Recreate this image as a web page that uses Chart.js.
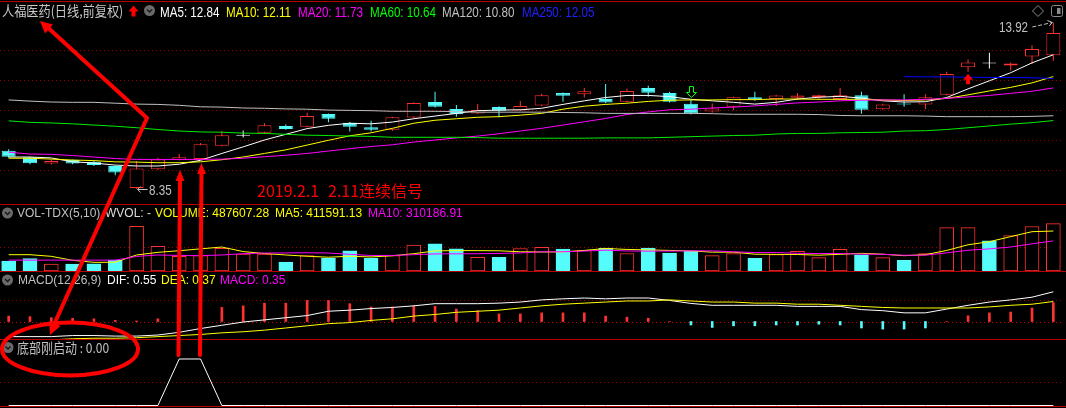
<!DOCTYPE html>
<html>
<head>
<meta charset="utf-8">
<title>人福医药 日线</title>
<script src="https://cdn.jsdelivr.net/npm/chart.js@4.4.1/dist/chart.umd.min.js"></script>
<style>
  html, body { margin: 0; padding: 0; background: #000; }
  #wrap { position: relative; width: 1066px; height: 408px; overflow: hidden; background: #000; }
  #wrap canvas { position: absolute; left: -2px; }
  .hl { position: absolute; left: 0; width: 1066px; height: 1px; background: #b80000; }
  .t { position: absolute; white-space: pre; font-family: "Liberation Sans", Arial, sans-serif; font-size: 12px; line-height: 14px; }
  .big { font-size: 14px; line-height: 16px; transform: scaleX(0.83); transform-origin: 0 0; }
  .cjk { font-family: "Noto Sans CJK SC", sans-serif; }
  svg { position: absolute; overflow: visible; }
</style>
</head>
<body>
<div id="wrap">
  <canvas id="cMain" width="1066" height="204" style="top:0"></canvas>
  <canvas id="cVol" width="1066" height="67" style="top:204px"></canvas>
  <canvas id="cMacd" width="1066" height="68" style="top:271px"></canvas>
  <canvas id="cSig" width="1066" height="69" style="top:339px"></canvas>

  <div class="hl" style="top:1px"></div>
  <div class="hl" style="top:204px"></div>
  <div class="hl" style="top:271px"></div>
  <div class="hl" style="top:339px"></div>
  <div class="hl" style="top:406px"></div>

  <!-- title row -->
  <div class="t cjk" style="left:2px;top:2px;font-size:14px;line-height:16px;color:#c8c8c8;transform:scaleX(0.87);transform-origin:0 0">人福医药(日线,前复权)</div>
  <svg style="left:0;top:0" width="1066" height="20">
    <polygon points="133.5,5.5 138.5,11.5 135.5,11.5 135.5,16.5 131.5,16.5 131.5,11.5 128.5,11.5" fill="#ff0000"/>
    <circle cx="149.5" cy="10.5" r="5.5" fill="#6a6a6a"/>
    <polyline points="147,9.5 149.5,12 152,9.5" stroke="#1a1a1a" stroke-width="1.5" fill="none"/>
    <polygon points="1038,5.5 1043.5,11 1038,16.5 1032.5,11" stroke="#8a8a8a" fill="none"/>
    <rect x="1051.5" y="5.5" width="11" height="11" rx="2" stroke="#8a8a8a" fill="none"/>
    <rect x="1057" y="8" width="3.5" height="6" fill="#8a8a8a"/>
  </svg>
  <div class="t big" style="left:160px;top:4px;color:#ffffff">MA5: 12.84</div>
  <div class="t big" style="left:226px;top:4px;color:#ffff00">MA10: 12.11</div>
  <div class="t big" style="left:298px;top:4px;color:#ff00ff">MA20: 11.73</div>
  <div class="t big" style="left:370px;top:4px;color:#00ff00">MA60: 10.64</div>
  <div class="t big" style="left:442px;top:4px;color:#c0c0c0">MA120: 10.80</div>
  <div class="t big" style="left:522px;top:4px;color:#2020ff">MA250: 12.05</div>
  <div id="lblLow" class="t big" style="color:#c0c0c0"></div>
  <div id="lblHigh" class="t big" style="color:#c0c0c0"></div>

  <!-- volume row -->
  <svg style="left:0;top:0" width="20" height="408">
    <circle cx="7.5" cy="213" r="5.5" fill="#6a6a6a"/>
    <polyline points="5,212 7.5,214.5 10,212" stroke="#1a1a1a" stroke-width="1.5" fill="none"/>
    <circle cx="7.5" cy="280" r="5.5" fill="#6a6a6a"/>
    <polyline points="5,279 7.5,281.5 10,279" stroke="#1a1a1a" stroke-width="1.5" fill="none"/>
    <circle cx="8" cy="347.5" r="5.5" fill="#6a6a6a"/>
    <polyline points="5.5,346.5 8,349 10.5,346.5" stroke="#1a1a1a" stroke-width="1.5" fill="none"/>
  </svg>
  <div class="t" style="left:17px;top:206px;color:#c0c0c0">VOL-TDX(5,10)</div>
  <div class="t" style="left:105px;top:206px;color:#dcdcdc">WVOL: -</div>
  <div class="t" style="left:155px;top:206px;color:#ffff00">VOLUME: 487607.28</div>
  <div class="t" style="left:275px;top:206px;color:#ffff00">MA5: 411591.13</div>
  <div class="t" style="left:368px;top:206px;color:#ff00ff">MA10: 310186.91</div>

  <!-- macd row -->
  <div class="t" style="left:18px;top:273px;color:#c0c0c0">MACD(12,26,9)</div>
  <div class="t" style="left:107px;top:273px;color:#ffffff">DIF: 0.55</div>
  <div class="t" style="left:161px;top:273px;color:#ffff00">DEA: 0.37</div>
  <div class="t" style="left:220px;top:273px;color:#ff00ff">MACD: 0.35</div>

  <!-- signal row -->
  <div class="t cjk" style="left:17px;top:339px;font-size:13.5px;line-height:16px;color:#c0c0c0;transform:scaleX(0.89);transform-origin:0 0">底部刚启动 : 0.00</div>

  <!-- hand drawn notes -->
  <div class="t cjk" style="left:257px;top:181px;font-size:16px;line-height:18px;color:#ff0000">2019.2.1</div>
  <div class="t cjk" style="left:328px;top:181px;font-size:16px;line-height:18px;color:#ff0000">2.11连续信号</div>
  <svg style="left:0;top:0" width="1066" height="408">
    <g stroke="#ff0000" stroke-width="4" fill="none" stroke-linecap="round" stroke-linejoin="round">
      <polyline points="45,25 147,118 52,329"/>
      <ellipse cx="70" cy="349" rx="68" ry="26.5"/>
      <line x1="178.5" y1="355" x2="180" y2="178"/>
      <line x1="200" y1="355" x2="201.5" y2="171"/>
    </g>
    <g fill="#ff0000">
      <polygon points="40,21 53,24.5 45,33.5"/>
      <polygon points="50,335 60.5,326 49,321"/>
      <polygon points="180,170 184.5,181 175.5,181"/>
      <polygon points="201.5,163 206,174 197,174"/>
    </g>
  </svg>
</div>

<script>
// trading days of the window
const days = ['1','2','3','4','5','6','7','8','9','10','11','12','13','14','15','16','17','18','19','20',
  '21','22','23','24','25','26','27','28','29','30','31','32','33','34','35','36','37','38','39','40',
  '41','42','43','44','45','46','47','48','49','50'];

const open  = [9.63, 9.41, 9.20, 9.32, 9.26, 9.12, 8.38, 9.01, 9.32, 9.35, 9.80, 10.13, 10.23, 10.46, 10.43, 10.86, 10.57, 10.42, 10.33, 10.74,
  11.26, 11.03, 10.88, 11.09, 10.98, 11.14, 11.56, 11.52, 11.36, 11.27, 11.73, 11.56, 11.20, 10.94, 11.10, 11.42, 11.36, 11.40, 11.43, 11.36,
  11.49, 11.02, 11.20, 11.18, 11.50, 12.42, 12.56, 12.48, 12.78, 12.82];
const high  = [9.68, 9.43, 9.33, 9.34, 9.28, 9.14, 9.29, 9.40, 9.52, 9.89, 10.29, 10.31, 10.55, 10.51, 10.90, 10.88, 10.59, 10.63, 10.77, 11.25,
  11.60, 11.16, 11.19, 11.12, 11.29, 11.54, 11.58, 11.73, 11.86, 11.70, 11.80, 11.60, 11.33, 11.21, 11.44, 11.60, 11.50, 11.56, 11.51, 11.73,
  11.60, 11.20, 11.52, 11.52, 12.27, 12.68, 12.91, 12.58, 13.16, 13.92];
const low   = [9.40, 9.18, 9.17, 9.18, 9.12, 8.81, 8.35, 8.99, 9.30, 9.33, 9.78, 10.07, 10.19, 10.33, 10.42, 10.58, 10.27, 10.27, 10.29, 10.72,
  11.08, 10.77, 10.86, 10.75, 10.96, 11.12, 11.27, 11.41, 11.22, 11.25, 11.44, 11.24, 10.84, 10.90, 10.99, 11.30, 11.13, 11.33, 11.33, 11.34,
  10.87, 11.00, 11.10, 11.02, 11.48, 12.27, 12.38, 12.31, 12.53, 12.64];
const close = [9.43, 9.21, 9.29, 9.20, 9.15, 8.90, 9.04, 9.34, 9.41, 9.85, 10.15, 10.13, 10.48, 10.36, 10.79, 10.70, 10.43, 10.33, 10.75, 11.23,
  11.10, 10.85, 10.99, 10.97, 11.13, 11.49, 11.47, 11.62, 11.24, 11.63, 11.57, 11.27, 10.88, 11.04, 11.42, 11.34, 11.48, 11.48, 11.49, 11.49,
  11.00, 11.18, 11.18, 11.42, 12.20, 12.58, 12.55, 12.55, 13.03, 13.57];

const ma5   = [9.42, 9.42, 9.39, 9.26, 9.22, 9.15, 9.12, 9.12, 9.18, 9.31, 9.54, 9.76, 9.99, 10.18, 10.37, 10.48, 10.55, 10.53, 10.59, 10.70,
  10.79, 10.88, 10.97, 10.99, 11.00, 11.05, 11.18, 11.30, 11.41, 11.48, 11.48, 11.44, 11.35, 11.30, 11.25, 11.19, 11.25, 11.36, 11.42, 11.45,
  11.39, 11.30, 11.26, 11.27, 11.41, 11.70, 11.97, 12.24, 12.57, 12.84];
const ma10  = [9.38, 9.38, 9.35, 9.32, 9.30, 9.26, 9.25, 9.23, 9.23, 9.26, 9.33, 9.42, 9.54, 9.66, 9.82, 9.98, 10.13, 10.23, 10.38, 10.55,
  10.65, 10.70, 10.75, 10.77, 10.82, 10.88, 11.02, 11.12, 11.18, 11.22, 11.28, 11.32, 11.33, 11.33, 11.34, 11.34, 11.36, 11.36, 11.35, 11.35,
  11.35, 11.33, 11.31, 11.33, 11.38, 11.50, 11.63, 11.75, 11.90, 12.11];
const ma20  = [9.58, 9.52, 9.51, 9.47, 9.42, 9.37, 9.34, 9.34, 9.34, 9.34, 9.35, 9.38, 9.43, 9.48, 9.54, 9.62, 9.70, 9.77, 9.83, 9.92,
  9.99, 10.06, 10.12, 10.20, 10.29, 10.38, 10.49, 10.60, 10.71, 10.84, 10.93, 11.00, 11.02, 11.06, 11.09, 11.13, 11.18, 11.23, 11.26, 11.30,
  11.32, 11.33, 11.33, 11.35, 11.38, 11.43, 11.48, 11.55, 11.62, 11.73];
const ma60  = [10.63, 10.58, 10.56, 10.53, 10.49, 10.45, 10.40, 10.34, 10.29, 10.26, 10.25, 10.22, 10.21, 10.18, 10.15, 10.14, 10.12, 10.11, 10.08, 10.08,
  10.08, 10.08, 10.07, 10.05, 10.05, 10.05, 10.05, 10.05, 10.06, 10.06, 10.06, 10.08, 10.10, 10.12, 10.14, 10.15, 10.19, 10.21, 10.21, 10.23,
  10.24, 10.25, 10.29, 10.30, 10.34, 10.40, 10.46, 10.52, 10.57, 10.64];
const ma120 = [11.33, 11.29, 11.26, 11.25, 11.25, 11.22, 11.19, 11.18, 11.15, 11.10, 11.09, 11.06, 11.05, 11.03, 11.02, 10.99, 10.98, 10.97, 10.95, 10.95,
  10.95, 10.94, 10.92, 10.92, 10.92, 10.92, 10.91, 10.90, 10.88, 10.88, 10.88, 10.88, 10.88, 10.87, 10.85, 10.85, 10.85, 10.85, 10.84, 10.81,
  10.80, 10.80, 10.80, 10.79, 10.77, 10.77, 10.77, 10.77, 10.78, 10.80];
const ma250 = [null, null, null, null, null, null, null, null, null, null, null, null, null, null, null, null, null, null, null, null,
  null, null, null, null, null, null, null, null, null, null, null, null, null, null, null, null, null, null, null, null,
  null, null, 12.11, 12.10, 12.10, 12.09, 12.08, 12.08, 12.07, 12.05];

const volume = [103000, 127000, 72000, 72000, 75000, 113000, 460000, 254000, 151000, 158000, 234000, 175000, 175000, 93000, 160000, 132000, 207000, 132000, 160000, 268000,
  280000, 228000, 140000, 142000, 232000, 244000, 227000, 212000, 237000, 180000, 237000, 184000, 205000, 159000, 180000, 130000, 170000, 202000, 137000, 223000,
  166000, 137000, 109000, 180000, 447000, 447000, 312000, 365000, 458000, 487607.28];
const volMa5 = [168000, 168000, 151000, 110000, 89000, 90000, 165000, 192000, 209000, 228000, 247000, 200000, 180000, 165000, 152000, 142000, 152000, 145000, 157000, 178000,
  207000, 210000, 210000, 208000, 198000, 196000, 197000, 212000, 232000, 222000, 217000, 212000, 207000, 194000, 194000, 173000, 171000, 170000, 163000, 172000,
  182000, 173000, 158000, 168000, 212000, 270000, 302000, 354000, 405000, 411591.13];
const volMa10 = [112000, 112000, 112000, 112000, 112000, 112000, 150000, 165000, 160000, 158000, 165000, 178000, 185000, 186000, 188000, 185000, 172000, 160000, 160000, 168000,
  176000, 177000, 178000, 181000, 186000, 198000, 198000, 205000, 215000, 206000, 205000, 205000, 208000, 207000, 198000, 190000, 190000, 182000, 180000, 180000,
  174000, 172000, 162000, 163000, 187000, 214000, 228000, 247000, 280000, 310186.91];

const dif  = [-0.28, -0.28, -0.28, -0.26, -0.26, -0.27, -0.27, -0.25, -0.20, -0.13, -0.07, -0.01, 0.03, 0.07, 0.11, 0.19, 0.21, 0.24, 0.26, 0.29,
  0.33, 0.33, 0.33, 0.34, 0.36, 0.40, 0.42, 0.435, 0.42, 0.435, 0.435, 0.39, 0.335, 0.30, 0.30, 0.30, 0.30, 0.28, 0.28, 0.28,
  0.22, 0.20, 0.16, 0.16, 0.23, 0.30, 0.36, 0.40, 0.45, 0.55];
const dea  = [-0.35, -0.35, -0.34, -0.32, -0.31, -0.31, -0.30, -0.28, -0.26, -0.24, -0.21, -0.19, -0.16, -0.12, -0.08, -0.04, -0.02, 0.02, 0.05, 0.10,
  0.13, 0.17, 0.19, 0.21, 0.25, 0.29, 0.32, 0.34, 0.36, 0.38, 0.38, 0.40, 0.38, 0.36, 0.36, 0.34, 0.34, 0.32, 0.32, 0.30,
  0.28, 0.26, 0.25, 0.25, 0.25, 0.25, 0.27, 0.30, 0.32, 0.37];
const macd = [0.10, 0.09, 0.07, 0.06, 0.05, 0.02, 0.01, 0.05, 0.15, 0.22, 0.26, 0.29, 0.34, 0.34, 0.39, 0.39, 0.33, 0.27, 0.27, 0.29,
  0.28, 0.23, 0.20, 0.14, 0.14, 0.16, 0.16, 0.16, 0.10, 0.08, 0.06, 0, -0.065, -0.11, -0.08, -0.08, -0.065, -0.065, -0.05, -0.065,
  -0.12, -0.14, -0.14, -0.12, 0, 0.105, 0.16, 0.175, 0.25, 0.35];

// 底部刚启动
const signal = [0, 0, 0, 0, 0, 0, 0, 0, 1, 1, 0, 0, 0, 0, 0, 0, 0, 0, 0, 0,
  0, 0, 0, 0, 0, 0, 0, 0, 0, 0, 0, 0, 0, 0, 0, 0, 0, 0, 0, 0,
  0, 0, 0, 0, 0, 0, 0, 0, 0, 0];

// signal arrows drawn by the terminal
const sellMark = 32;
const buyMark = 45;

const RED = '#ff3232', CYAN = '#54fcfc', WHITE = '#ffffff', YEL = '#ffff00', MAG = '#ff00ff';
const GRN = '#00ee00', GRAY = '#c0c0c0', BLUE = '#0000ff';

function bodyColor(i) {
  const d = close[i] - open[i];
  if (Math.abs(d) <= 0.011) return WHITE;
  return d > 0 ? RED : CYAN;
}

const dotGrid = {
  id: 'dotGrid',
  beforeDatasetsDraw(chart, args, opts) {
    const {ctx, chartArea, scales} = chart;
    ctx.save();
    ctx.lineWidth = 1;
    ctx.setLineDash([1, 3]);
    (opts.values || []).forEach(function (v, k) {
      const py = Math.round(scales.y.getPixelForValue(v)) + 0.5;
      ctx.strokeStyle = (opts.colors && opts.colors[k]) || '#a00000';
      ctx.beginPath();
      ctx.moveTo(chartArea.left + 2, py);
      ctx.lineTo(chartArea.right + 2, py);
      ctx.stroke();
    });
    ctx.restore();
  }
};

const mainMarks = {
  id: 'mainMarks',
  afterDatasetsDraw(chart) {
    const {ctx, scales: {x, y}} = chart;
    ctx.save();
    // hollow green arrow above the sell bar
    let px = Math.round(x.getPixelForValue(sellMark)) + 0.5;
    let py = Math.round(y.getPixelForValue(high[sellMark])) - 2.5;
    ctx.strokeStyle = '#00ff00';
    ctx.lineWidth = 1;
    ctx.beginPath();
    ctx.moveTo(px, py); ctx.lineTo(px - 5, py - 5); ctx.lineTo(px - 2, py - 5); ctx.lineTo(px - 2, py - 11);
    ctx.lineTo(px + 2, py - 11); ctx.lineTo(px + 2, py - 5); ctx.lineTo(px + 5, py - 5); ctx.closePath();
    ctx.stroke();
    // filled red arrow below the buy bar
    px = x.getPixelForValue(buyMark);
    py = y.getPixelForValue(low[buyMark]) + 2;
    ctx.fillStyle = '#ff0000';
    ctx.beginPath();
    ctx.moveTo(px, py); ctx.lineTo(px + 5, py + 6); ctx.lineTo(px + 2, py + 6); ctx.lineTo(px + 2, py + 10.5);
    ctx.lineTo(px - 2, py + 10.5); ctx.lineTo(px - 2, py + 6); ctx.lineTo(px - 5, py + 6); ctx.closePath();
    ctx.fill();
    // leader to the lowest low
    const li = low.indexOf(Math.min.apply(null, low));
    px = x.getPixelForValue(li) + 1; py = Math.round(y.getPixelForValue(low[li])) + 0.5;
    ctx.strokeStyle = GRAY;
    ctx.beginPath();
    ctx.moveTo(px + 10, py); ctx.lineTo(px, py);
    ctx.moveTo(px + 3, py - 3); ctx.lineTo(px, py); ctx.lineTo(px + 3, py + 3);
    ctx.stroke();
    // leader to the highest high
    const hi = high.indexOf(Math.max.apply(null, high));
    px = x.getPixelForValue(hi) - 1; py = y.getPixelForValue(high[hi]);
    ctx.setLineDash([4, 2]);
    ctx.beginPath();
    ctx.moveTo(px - 20, py + 4.5); ctx.lineTo(px, py);
    ctx.stroke();
    ctx.setLineDash([]);
    ctx.beginPath();
    ctx.moveTo(px - 5, py - 2); ctx.lineTo(px, py); ctx.lineTo(px - 3, py + 3.5);
    ctx.stroke();
    ctx.restore();
  }
};

function panelOptions(min, max, grid, gridColors) {
  return {
    responsive: false,
    maintainAspectRatio: false,
    animation: false,
    devicePixelRatio: 1,
    events: [],
    layout: {padding: 0},
    plugins: {
      legend: {display: false},
      tooltip: {enabled: false},
      dotGrid: {values: grid, colors: gridColors}
    },
    scales: {
      x: {display: false, offset: true},
      y: {display: false, min: min, max: max}
    }
  };
}

function lineSet(data, color, order) {
  return {type: 'line', data: data, borderColor: color, borderWidth: 1, pointRadius: 0,
          tension: 0, fill: false, spanGaps: false, order: order};
}

// main: candles + moving averages
const bodies = open.map(function (o, i) { return [o, close[i]]; });
const wicks = low.map(function (l, i) { return [l, high[i]]; });
const mainChart = new Chart(document.getElementById('cMain'), {
  type: 'bar',
  data: {
    labels: days,
    datasets: [
      lineSet(ma120, GRAY, 1),
      lineSet(ma60, GRN, 1),
      lineSet(ma250, BLUE, 1),
      lineSet(ma20, MAG, 1),
      lineSet(ma10, YEL, 1),
      lineSet(ma5, WHITE, 1),
      {
        data: bodies, grouped: false, maxBarThickness: 14, minBarLength: 1,
        backgroundColor: days.map(function (d, i) { return bodyColor(i) === RED ? '#000000' : bodyColor(i); }),
        borderColor: days.map(function (d, i) { return bodyColor(i); }),
        borderWidth: 1, borderSkipped: false, order: 5
      },
      {
        data: wicks, grouped: false, maxBarThickness: 1,
        backgroundColor: days.map(function (d, i) { return bodyColor(i); }),
        borderWidth: 0, order: 6
      }
    ]
  },
  options: panelOptions(7.849, 14.672, [9, 10, 11, 12, 13]),
  plugins: [dotGrid, mainMarks]
});

// price labels at extremes
(function () {
  const x = mainChart.scales.x, y = mainChart.scales.y;
  const li = low.indexOf(Math.min.apply(null, low));
  const hi = high.indexOf(Math.max.apply(null, high));
  const a = document.getElementById('lblLow');
  a.textContent = low[li].toFixed(2);
  a.style.left = (x.getPixelForValue(li) - 2 + 12.5) + 'px';
  a.style.top = (y.getPixelForValue(low[li]) - 7) + 'px';
  const b = document.getElementById('lblHigh');
  b.textContent = high[hi].toFixed(2);
  b.style.left = (x.getPixelForValue(hi) - 2 - 54) + 'px';
  b.style.top = (y.getPixelForValue(high[hi]) - 3.5) + 'px';
})();

// volume
const volUp = days.map(function (d, i) { return close[i] >= open[i]; });
new Chart(document.getElementById('cVol'), {
  type: 'bar',
  data: {
    labels: days,
    datasets: [
      lineSet(volMa10, MAG, 1),
      lineSet(volMa5, YEL, 1),
      {
        data: volume, barThickness: 14,
        backgroundColor: volUp.map(function (u) { return u ? '#000000' : CYAN; }),
        borderColor: volUp.map(function (u) { return u ? RED : CYAN; }),
        borderWidth: 1, borderSkipped: false, order: 5
      }
    ]
  },
  options: panelOptions(0, 690100, [250000]),
  plugins: [dotGrid]
});

// MACD
new Chart(document.getElementById('cMacd'), {
  type: 'bar',
  data: {
    labels: days,
    datasets: [
      lineSet(dea, YEL, 1),
      lineSet(dif, WHITE, 1),
      {
        data: macd, barThickness: 2,
        backgroundColor: macd.map(function (v) { return v >= 0 ? RED : CYAN; }),
        borderWidth: 0, order: 5
      }
    ]
  },
  options: panelOptions(-0.324, 0.935, [0, 0.4], ['#d00000', '#a00000']),
  plugins: [dotGrid]
});

// 底部刚启动 indicator
new Chart(document.getElementById('cSig'), {
  type: 'line',
  data: {
    labels: days,
    datasets: [lineSet(signal, WHITE, 1)]
  },
  options: panelOptions(-0.054, 1.43, [0.5]),
  plugins: [dotGrid]
});
</script>
</body>
</html>
